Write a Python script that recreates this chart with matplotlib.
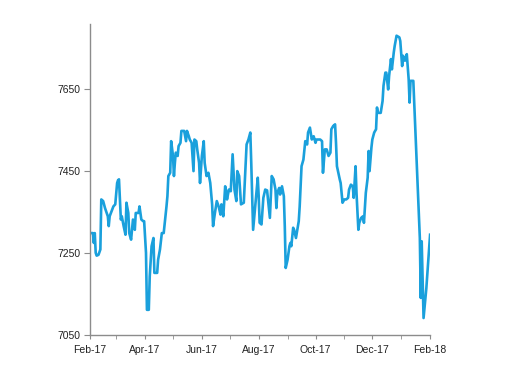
import datetime as dt
import matplotlib
matplotlib.use("Agg")
import matplotlib.pyplot as plt
import matplotlib.dates as mdates

# day offsets from 1 Feb 2017 and index level
days = [0, 3, 4, 5, 6, 7, 9, 11, 12, 14, 16, 19, 20, 21, 23, 25, 27, 29, 30, 31,
        33, 34, 36, 38, 39, 41, 42, 44, 46, 48, 49, 52, 53, 55, 57, 58, 60, 61, 63, 64,
        66, 68, 69, 72, 73, 75, 77, 79, 82, 83, 84, 86, 87, 89, 90, 91, 92, 94, 95, 97,
        98, 101, 103, 104, 106, 107, 109, 111, 112, 114, 115, 117, 118, 120, 122, 123, 125, 127, 129, 131,
        132, 134, 136, 138, 140, 141, 143, 145, 146, 147, 149, 151, 153, 154, 155, 157, 158, 160, 162, 165,
        166, 168, 170, 172, 173, 175, 176, 178, 180, 181, 182, 184, 186, 188, 190, 192, 193, 195, 197, 199,
        200, 201, 203, 204, 206, 208, 209, 210, 212, 214, 215, 216, 218, 219, 221, 224, 225, 227, 229, 231,
        233, 234, 236, 238, 240, 242, 243, 245, 247, 249, 250, 252, 254, 256, 258, 259, 261, 263, 264, 265,
        268, 269, 271, 273, 275, 277, 278, 280, 282, 283, 285, 286, 288, 289, 291, 293, 294, 296, 298, 299,
        300, 302, 303, 305, 307, 308, 309, 312, 314, 315, 317, 318, 320, 321, 323, 324, 326, 327, 329, 332,
        333, 335, 336, 338, 340, 342, 343, 344, 347, 354, 355, 356, 358, 361, 365]
levels = [7298, 7298, 7274, 7298, 7250, 7243, 7245, 7258, 7380, 7376, 7359, 7339, 7315, 7339, 7351, 7363, 7368, 7420, 7427, 7429,
          7331, 7339, 7315, 7294, 7372, 7347, 7298, 7282, 7331, 7306, 7347, 7347, 7363, 7331, 7327, 7327, 7250, 7111, 7111, 7192,
          7266, 7286, 7201, 7201, 7233, 7258, 7298, 7298, 7363, 7388, 7437, 7445, 7522, 7486, 7437, 7469, 7494, 7486, 7510, 7518,
          7547, 7547, 7522, 7547, 7534, 7526, 7518, 7449, 7526, 7522, 7502, 7469, 7420, 7486, 7522, 7469, 7437, 7445, 7420, 7368,
          7315, 7347, 7376, 7363, 7343, 7368, 7339, 7412, 7400, 7380, 7404, 7400, 7490, 7445, 7404, 7376, 7449, 7437, 7368, 7372,
          7420, 7514, 7526, 7543, 7469, 7306, 7331, 7380, 7433, 7388, 7323, 7319, 7384, 7404, 7402, 7359, 7335, 7437, 7429, 7404,
          7359, 7396, 7408, 7392, 7412, 7388, 7315, 7213, 7233, 7266, 7274, 7266, 7311, 7306, 7286, 7327, 7363, 7461, 7477, 7522,
          7514, 7543, 7555, 7526, 7534, 7518, 7526, 7526, 7526, 7522, 7445, 7502, 7502, 7486, 7494, 7551, 7559, 7563, 7518, 7461,
          7429, 7420, 7372, 7380, 7380, 7384, 7404, 7416, 7412, 7384, 7461, 7396, 7306, 7323, 7335, 7339, 7323, 7396, 7433, 7498,
          7449, 7506, 7526, 7543, 7551, 7604, 7591, 7591, 7620, 7657, 7689, 7689, 7648, 7681, 7722, 7697, 7738, 7754, 7779, 7775,
          7766, 7705, 7730, 7718, 7734, 7673, 7616, 7669, 7669, 7286, 7140, 7278, 7091, 7164, 7294]

y_ticks = [7050, 7250, 7450, 7650]

start = dt.date(2017, 2, 1)
dates = [start + dt.timedelta(days=d) for d in days]

plt.rcParams['font.family'] = ['Liberation Sans', 'DejaVu Sans']

fig = plt.figure(figsize=(5.12, 3.84), dpi=100)
ax = fig.add_axes([0.176, 0.128, 0.664, 0.81])

ax.plot(dates, levels, color='#1aa0dc', lw=1.9, solid_joinstyle='round')

ax.set_xlim(dt.date(2017, 2, 1), dt.date(2018, 2, 1))
ax.set_ylim(7050, 7808)
ax.set_yticks(y_ticks)

ax.xaxis.set_major_locator(mdates.MonthLocator(bymonth=[2, 4, 6, 8, 10, 12]))
ax.xaxis.set_major_formatter(mdates.DateFormatter('%b-%y'))
ax.xaxis.set_minor_locator(mdates.MonthLocator())

for s in ['top', 'right']:
    ax.spines[s].set_visible(False)
for s in ['left', 'bottom']:
    ax.spines[s].set_color('#8c8c8c')
    ax.spines[s].set_linewidth(1.0)

ax.tick_params(axis='both', which='both', colors='#8c8c8c', labelcolor='#222222', labelsize=7.5)
ax.tick_params(axis='x', which='both', length=3, pad=4)
ax.tick_params(axis='y', length=4, pad=3)

fig.savefig('out.png', dpi=100, facecolor='white')
